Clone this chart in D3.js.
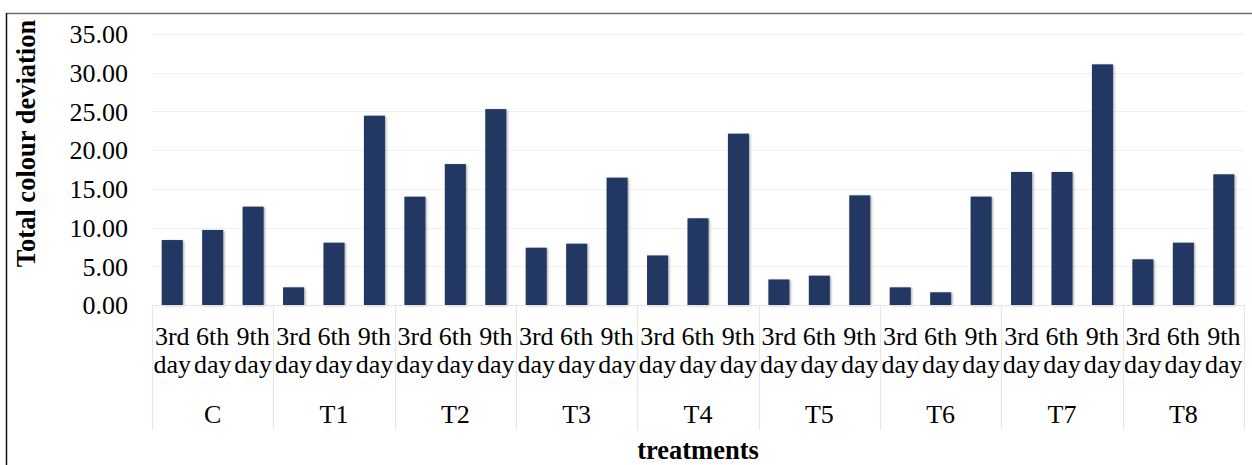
<!DOCTYPE html>
<html><head><meta charset="utf-8">
<script src="https://cdn.jsdelivr.net/npm/d3@7"></script>
<style>
html,body{margin:0;padding:0;background:#fff;}
svg{display:block;}
text{font-family:"Liberation Serif","Times New Roman",serif;fill:#000;}
</style></head>
<body>
<svg id="chart" width="1252" height="465"></svg>
<script>
const treatments = ["C","T1","T2","T3","T4","T5","T6","T7","T8"];
const dayLabels = ["3rd day","6th day","9th day"];
const day3 = [8.39, 2.28, 13.99, 7.40, 6.40, 3.30, 2.28, 17.18, 5.90];
const day6 = [9.69, 8.05, 18.20, 7.92, 11.20, 3.79, 1.64, 17.18, 8.05];
const day9 = [12.70, 24.45, 25.30, 16.45, 22.13, 14.16, 14.00, 31.08, 16.88];
const yTicks = [0,5,10,15,20,25,30,35];
const yTitle = "Total colour deviation";
const xTitle = "treatments";

(function(){
const series = [day3, day6, day9];
const rows = [];
treatments.forEach((t, i) => {
  dayLabels.forEach((d, j) => rows.push({key: t + "|" + d, treat: t, day: d, value: series[j][i]}));
});

const svg = d3.select("#chart");
const pLeft = 152, pRight = 1244, pTop = 34, pBottom = 305;

const x = d3.scaleBand().domain(rows.map(r => r.key)).range([pLeft, pRight]).paddingInner(0.48).paddingOuter(0.24);
const xg = d3.scaleBand().domain(treatments).range([pLeft, pRight]);
const y = d3.scaleLinear().domain([0, 35]).range([pBottom, pTop]);

// frame
svg.append("line").attr("x1", 6).attr("x2", 1252).attr("y1", 13.5).attr("y2", 13.5).attr("stroke", "#6e6e6e").attr("stroke-width", 1.5);
svg.append("line").attr("x1", 6.5).attr("x2", 6.5).attr("y1", 13).attr("y2", 465).attr("stroke", "#111").attr("stroke-width", 1.5);

const defs = svg.append("defs");
const f = defs.append("filter").attr("id", "sh").attr("x", "-30%").attr("y", "-10%").attr("width", "160%").attr("height", "120%");
f.append("feDropShadow").attr("dx", 1.2).attr("dy", 0.8).attr("stdDeviation", 1.1).attr("flood-color", "#000").attr("flood-opacity", 0.35);

// gridlines
svg.append("g").selectAll("line").data(yTicks.filter(d => d > 0)).join("line")
  .attr("x1", pLeft).attr("x2", pRight)
  .attr("y1", d => Math.round(y(d)) + 0.5).attr("y2", d => Math.round(y(d)) + 0.5)
  .attr("stroke", "#f0f0f0").attr("stroke-width", 1);

// y axis labels
const yAxis = d3.axisLeft(y).tickValues(yTicks).tickFormat(d3.format(".2f")).tickSize(0).tickPadding(0);
const ya = svg.append("g").attr("transform", `translate(128,0)`).call(yAxis);
ya.select(".domain").remove();
ya.selectAll("text").attr("font-size", 26).attr("font-family", "Liberation Serif").attr("fill", "#000").attr("dy", "0.34em");

// bars
svg.append("g").selectAll("rect").data(rows).join("rect")
  .attr("x", d => x(d.key)).attr("width", x.bandwidth())
  .attr("y", d => y(d.value)).attr("height", d => y(0) - y(d.value))
  .attr("fill", "#203864").attr("filter", "url(#sh)");

// x axis baseline
svg.append("line").attr("x1", pLeft).attr("x2", pRight).attr("y1", pBottom + 0.5).attr("y2", pBottom + 0.5).attr("stroke", "#e4e4e4").attr("stroke-width", 1.2);

// group separators
const seps = treatments.map(t => xg(t)).concat([pRight]);
svg.append("g").selectAll("line").data(seps).join("line")
  .attr("x1", d => Math.round(d) + 0.5).attr("x2", d => Math.round(d) + 0.5)
  .attr("y1", pBottom).attr("y2", 430)
  .attr("stroke", "#e6e6e6").attr("stroke-width", 1.2);

// day labels
const dl = svg.append("g").selectAll("text").data(rows).join("text")
  .attr("text-anchor", "middle").attr("font-size", 26)
  .attr("transform", d => `translate(${x(d.key) + x.bandwidth() / 2},0)`);
dl.append("tspan").attr("x", 0).attr("y", 345).text(d => d.day.split(" ")[0]);
dl.append("tspan").attr("x", 0).attr("y", 373).text(d => d.day.split(" ")[1]);

// group labels
svg.append("g").selectAll("text").data(treatments).join("text")
  .attr("x", d => xg(d) + xg.bandwidth() / 2).attr("y", 423)
  .attr("text-anchor", "middle").attr("font-size", 26).text(d => d);

// axis titles
svg.append("text").attr("x", (pLeft + pRight) / 2).attr("y", 459).attr("text-anchor", "middle")
  .attr("font-size", 26.5).attr("font-weight", "bold").text(xTitle);
svg.append("text").attr("transform", `translate(35,${(20 + 267) / 2}) rotate(-90)`).attr("text-anchor", "middle")
  .attr("font-size", 26.5).attr("font-weight", "bold").text(yTitle);
})();
</script>
</body></html>
